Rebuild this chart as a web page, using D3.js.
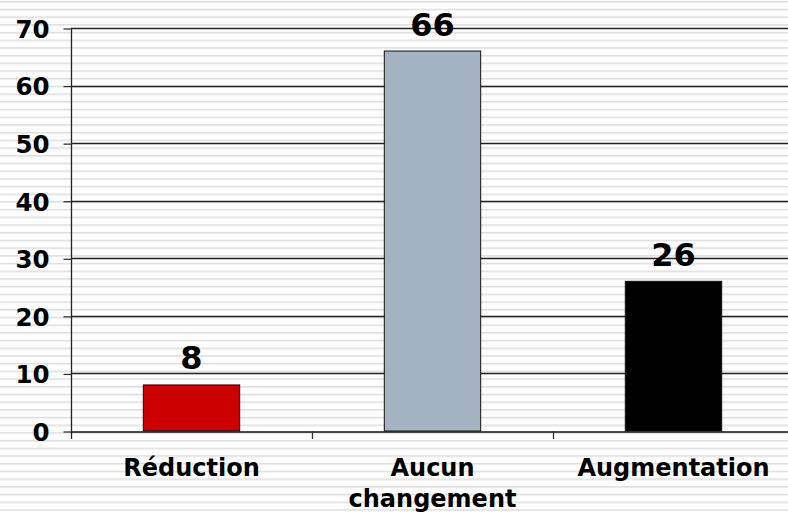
<!DOCTYPE html>
<html>
<head>
<meta charset="utf-8">
<script src="https://cdn.jsdelivr.net/npm/d3@7"></script>
<style>
html,body{margin:0;padding:0;background:#fff;}
svg{display:block;}
</style>
</head>
<body>
<svg id="chart" width="788" height="512"></svg>
<script>
const categories = ["Réduction", "Aucun changement", "Augmentation"];
const values = [8, 66, 26];
const barColors = ["#CC0000", "#A3B3C2", "#000000"];
const yTicks = [0, 10, 20, 30, 40, 50, 60, 70];
const categoryLines = [["Réduction"], ["Aucun", "changement"], ["Augmentation"]];

const W = 788, H = 512;
const svg = d3.select("#chart");
const font = "'DejaVu Sans', Verdana, sans-serif";

// striped background
const defs = svg.append("defs");
const pat = defs.append("pattern")
  .attr("id", "stripes").attr("patternUnits", "userSpaceOnUse")
  .attr("x", 0).attr("y", 1).attr("width", 8).attr("height", 7.7);
pat.append("rect").attr("width", 8).attr("height", 7.7).attr("fill", "#ffffff");
pat.append("rect").attr("y", 0).attr("width", 8).attr("height", 1).attr("fill", "#dedede");
pat.append("rect").attr("y", 1).attr("width", 8).attr("height", 1).attr("fill", "#ebebeb");
svg.append("rect").attr("width", W).attr("height", H).attr("fill", "url(#stripes)");

const x = d3.scaleBand().domain(categories).range([71, 794]).padding(0);
const y = d3.scaleLinear().domain([0, 70]).range([431, 28]);

// gridlines
svg.append("g").selectAll("line").data(yTicks.filter(d => d > 0)).join("line")
  .attr("x1", 71).attr("x2", 794)
  .attr("y1", d => Math.round(y(d)) + 0.5).attr("y2", d => Math.round(y(d)) + 0.5)
  .attr("stroke", "#222").attr("stroke-width", 1.3);

// bars
const bw = x.bandwidth() * 0.4;
svg.append("g").selectAll("rect").data(values).join("rect")
  .attr("x", (d, i) => x(categories[i]) + x.bandwidth() / 2 - bw / 2)
  .attr("y", d => y(d))
  .attr("width", bw)
  .attr("height", d => y(0) - y(d))
  .attr("fill", (d, i) => barColors[i])
  .attr("stroke", "#111").attr("stroke-width", 1);

// y axis
const yAxis = d3.axisLeft(y).tickValues(yTicks).tickSize(8).tickPadding(14).tickFormat(d3.format("d"));
const gy = svg.append("g").attr("transform", "translate(71.5,0.5)").call(yAxis);
gy.select(".domain").remove();
gy.selectAll(".tick line").attr("stroke", "#333").attr("stroke-width", 1.3);
gy.selectAll(".tick text").attr("font-family", font).attr("font-size", 24.5)
  .attr("font-weight", "bold").attr("fill", "#000").attr("dy", "0.36em");
svg.append("line").attr("x1", 71.5).attr("x2", 71.5).attr("y1", y(70)).attr("y2", y(0) + 8)
  .attr("stroke", "#222").attr("stroke-width", 1.3);

// x axis
const xAxis = d3.axisBottom(x).tickSize(0).tickFormat("");
const gx = svg.append("g").attr("transform", `translate(0,${Math.round(y(0)) + 0.5})`).call(xAxis);
gx.select(".domain").attr("stroke", "#111").attr("stroke-width", 1.6);
gx.selectAll(".tick").remove();
// category separators
svg.append("g").selectAll("line").data(categories.slice(1)).join("line")
  .attr("x1", d => Math.round(x(d)) + 0.5).attr("x2", d => Math.round(x(d)) + 0.5)
  .attr("y1", y(0)).attr("y2", y(0) + 8)
  .attr("stroke", "#333").attr("stroke-width", 1.3);

// category labels
const cl = svg.append("g").selectAll("text").data(categories).join("text")
  .attr("x", d => x(d) + x.bandwidth() / 2)
  .attr("y", 476)
  .attr("text-anchor", "middle")
  .attr("font-family", font).attr("font-size", 24).attr("font-weight", "bold").attr("fill", "#000");
cl.each(function(d, i) {
  const t = d3.select(this);
  categoryLines[i].forEach((ln, j) => {
    t.append("tspan").attr("x", x(d) + x.bandwidth() / 2).attr("dy", j === 0 ? 0 : 30.5).text(ln);
  });
});

// value labels
svg.append("g").selectAll("text").data(values).join("text")
  .attr("x", (d, i) => x(categories[i]) + x.bandwidth() / 2)
  .attr("y", d => y(d) - 15.5)
  .attr("text-anchor", "middle")
  .attr("font-family", font).attr("font-size", 32).attr("font-weight", "bold").attr("fill", "#000")
  .text(d => d);
</script>
</body>
</html>
